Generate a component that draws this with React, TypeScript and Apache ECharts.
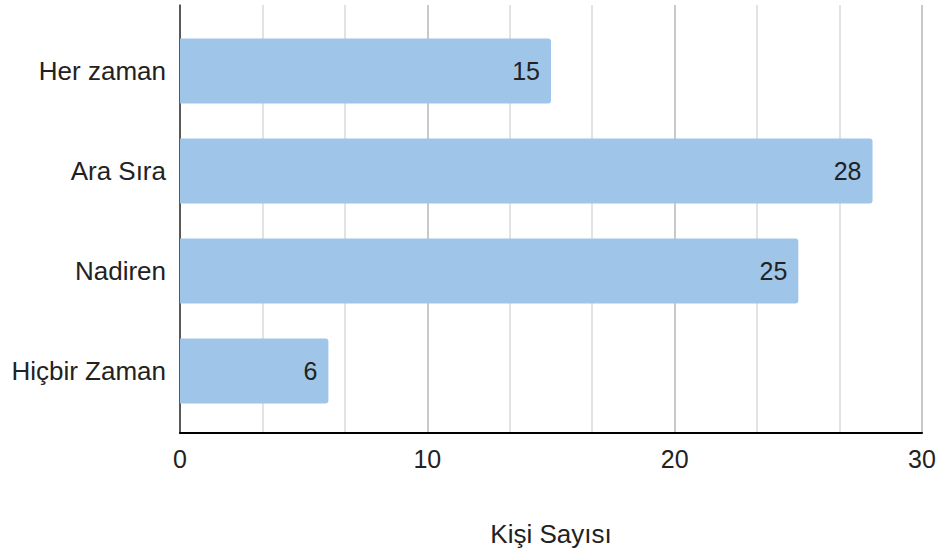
import React, { useEffect, useRef } from "react";
import * as echarts from "echarts";

const categories = ["Her zaman", "Ara Sıra", "Nadiren", "Hiçbir Zaman"];
const counts = [15, 28, 25, 6];
const axisMin = 0;
const axisMax = 30;
const axisStep = 10;
const axisTitle = "Kişi Sayısı";

const FONT = "'Liberation Sans', Arial, sans-serif";
const TEXT = "#222222";

export default function App() {
  const ref = useRef<HTMLDivElement>(null);

  useEffect(() => {
    if (!ref.current) return;
    const chart = echarts.init(ref.current, undefined, { renderer: "svg" });

    chart.setOption({
      animation: false,
      backgroundColor: "#ffffff",
      textStyle: { fontFamily: FONT },
      grid: [
        // frame: axis lines, gridlines and tick labels
        { left: 180, top: 5, width: 742, height: 434 },
        // bars, inset from the frame
        { left: 180, top: 21, width: 742, height: 400 },
      ],
      xAxis: [
        {
          gridIndex: 0,
          type: "value",
          min: axisMin,
          max: axisMax,
          interval: axisStep,
          name: axisTitle,
          nameLocation: "middle",
          nameGap: 88,
          nameTextStyle: { fontSize: 26, color: TEXT, fontFamily: FONT },
          axisLine: { show: true, onZero: false, lineStyle: { color: "#000000", width: 2 } },
          axisTick: { show: false },
          axisLabel: { fontSize: 25, color: TEXT, margin: 13, fontFamily: FONT },
          splitLine: { show: true, lineStyle: { color: "#c9c9c9", width: 2 } },
          minorTick: { show: false, splitNumber: 3 },
          minorSplitLine: { show: true, lineStyle: { color: "#e3e3e3", width: 2 } },
        },
        {
          gridIndex: 1,
          type: "value",
          min: axisMin,
          max: axisMax,
          show: false,
        },
      ],
      yAxis: [
        {
          gridIndex: 0,
          type: "value",
          min: 0,
          max: 1,
          axisLine: { show: true, lineStyle: { color: "#333333", width: 1.5 } },
          axisTick: { show: false },
          axisLabel: { show: false },
          splitLine: { show: false },
        },
        {
          gridIndex: 1,
          type: "category",
          inverse: true,
          data: categories,
          axisLine: { show: false },
          axisTick: { show: false },
          axisLabel: { fontSize: 26, color: TEXT, margin: 14, fontFamily: FONT },
          splitLine: { show: false },
        },
      ],
      series: [
        {
          type: "bar",
          xAxisIndex: 1,
          yAxisIndex: 1,
          data: counts,
          barWidth: 65,
          itemStyle: { color: "#9fc5e8", borderRadius: [0, 3, 3, 0] },
          label: {
            show: true,
            position: "insideRight",
            distance: 11,
            fontSize: 25,
            color: TEXT,
            fontFamily: FONT,
          },
        },
      ],
    });

    return () => chart.dispose();
  }, []);

  return (
    <div
      ref={ref}
      style={{ position: "fixed", left: 0, top: 0, width: 943, height: 552, background: "#fff" }}
    />
  );
}
